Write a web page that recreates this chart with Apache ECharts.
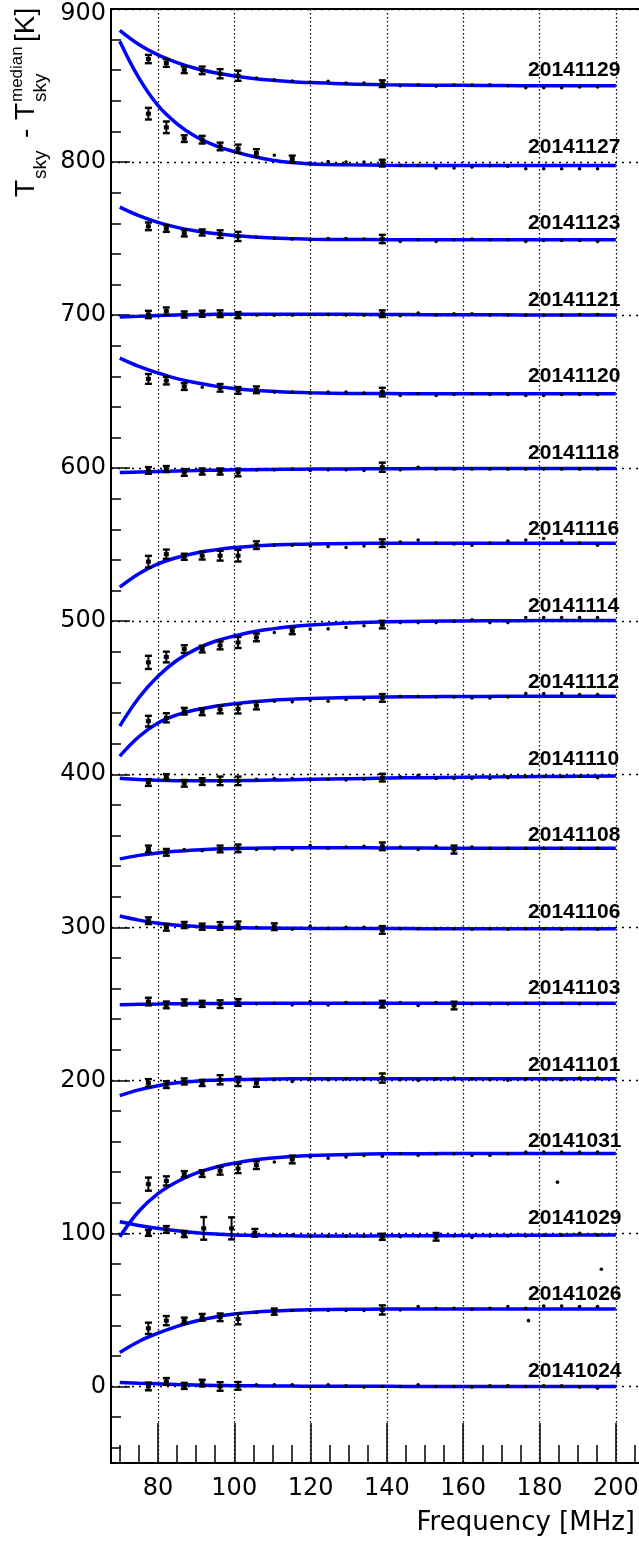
<!DOCTYPE html>
<html><head><meta charset="utf-8">
<script src="https://cdn.jsdelivr.net/npm/echarts@6/dist/echarts.min.js"></script>
<style>html,body{margin:0;padding:0;background:#fff;} #c{width:639px;height:1542px;}</style>
</head><body><div id="c"></div>
<script>
// ---------- data ----------
const names = ['20141129','20141127','20141123','20141121','20141120','20141118','20141116','20141114','20141112','20141110','20141108','20141106','20141103','20141101','20141031','20141029','20141026','20141024'];
const labelF = 177;
const labelT = [860,810,760,710,660,610,560,510,460,410,360,310,260,210,160,110,60,10];

const freqs = [77.5,82.2,86.9,91.6,96.3,101.0,105.8,110.5,115.2,119.9,124.6,129.3,134.0,138.8,143.5,148.2,152.9,157.6,162.3,167.0,171.7,176.4,181.1,185.8,190.5,195.2];
const freqs1029 = [77.5,82.2,86.9,92.0,99.3,105.4,110.5,115.2,119.9,124.6,129.3,134.0,138.8,143.5,148.2,152.9,157.6,162.3,167.0,171.7,176.4,181.1,185.8,190.5,195.2];
const fitFreqs = [70,75,80,85,90,95,100,105,110,115,120,130,140,150,160,170,180,190,200];

const t1129 = [867.3,864.7,860.3,859.9,857.7,856.4,854.9,853.8,852.9,852.1,852.7,851.6,851.6,851.2,849.9,850.5,849.5,850.3,850.3,850.5,849.9,848.6,848.6,848.6,849.0,849.0];
const e1129 = [2.7,2.5,2.2,2.5,3.0,3.3,0,0,0,0,0,0,0,2.2,0,0,0,0,0,0,0,0,0,0,0,0];
const t1127 = [831.6,822.7,815.3,814.6,810.2,808.7,805.9,804.4,802.0,799.3,800.4,800.0,800.0,799.3,797.8,797.8,796.1,796.1,796.7,797.6,797.2,795.6,795.6,795.6,795.6,795.6];
const e1127 = [3.8,3.8,2.2,2.5,2.5,2.7,2.5,0,2.2,0,0,0,0,2.2,0,0,0,0,0,0,0,0,0,0,0,0];
const t1123 = [758.0,756.6,753.6,754.0,752.9,751.4,751.0,750.3,749.7,749.2,750.1,750.1,749.7,749.7,748.1,749.2,748.1,749.2,749.7,749.2,749.2,748.1,748.8,748.8,748.8,748.1];
const e1123 = [2.5,2.2,2.2,2.0,2.5,3.0,0,0,0,0,0,0,0,2.7,0,0,0,0,0,0,0,0,0,0,0,0];
const t1121 = [700.4,702.6,700.4,700.9,700.9,700.0,700.0,700.0,700.0,700.4,700.4,700.0,700.0,700.9,699.6,701.3,700.0,700.9,700.9,700.0,700.0,700.0,700.0,700.0,700.4,700.4];
const e1121 = [2.4,2.4,2.0,2.0,2.2,2.0,0,0,0,0,0,0,0,2.2,0,0,0,0,0,0,0,0,0,0,0,0];
const t1120 = [658.3,657.2,653.3,652.9,652.5,650.8,651.2,649.7,649.7,649.0,649.7,649.7,649.0,649.7,647.5,648.6,647.5,648.2,648.6,648.2,648.2,647.5,647.5,648.2,648.2,648.2];
const e1120 = [3.2,2.5,2.2,0,2.5,2.2,2.2,0,0,0,0,0,0,2.8,0,0,0,0,0,0,0,0,0,0,0,0];
const t1118 = [598.5,599.4,597.2,597.8,597.8,597.2,598.9,598.9,599.4,598.5,598.9,598.9,598.5,600.6,598.9,600.6,599.4,599.4,599.4,599.4,599.4,599.4,599.4,599.4,599.4,599.4];
const e1118 = [2.2,2.0,2.2,2.0,2.0,2.5,0,0,0,0,0,0,0,3.0,0,0,0,0,0,0,0,0,0,0,0,0];
const t1116 = [538.9,543.8,542.1,542.8,542.8,542.8,549.7,549.7,549.7,549.2,548.8,548.2,549.2,551.0,551.8,553.1,551.0,550.4,549.7,551.0,552.4,553.1,554.0,552.4,551.0,549.7];
const e1116 = [3.8,3.0,2.0,2.5,3.2,3.8,2.5,0,0,0,0,0,0,2.5,0,0,0,0,0,0,0,0,0,0,0,0];
const t1114 = [473.1,476.6,481.8,481.8,484.2,486.1,489.4,492.6,493.7,494.8,495.0,495.9,497.0,497.8,499.1,499.1,499.1,500.0,500.9,499.1,499.1,502.4,502.4,502.4,502.4,502.4];
const e1114 = [4.3,3.5,2.5,2.2,2.6,3.6,2.5,0,2.2,0,0,0,0,2.5,0,0,0,0,0,0,0,0,0,0,0,0];
const t1112 = [434.7,436.9,441.2,440.8,442.3,442.7,444.9,447.7,447.3,448.4,447.7,448.8,449.2,449.9,451.0,451.0,450.5,450.5,449.9,449.9,450.5,452.7,452.7,452.7,452.1,452.1];
const e1112 = [3.5,3.0,2.2,2.2,2.5,3.0,2.5,0,0,0,0,0,0,2.5,0,0,0,0,0,0,0,0,0,0,0,0];
const t1110 = [394.6,398.3,394.1,395.2,395.7,395.7,396.7,397.2,397.2,396.7,396.7,396.3,396.7,397.8,398.3,399.3,397.2,397.2,397.2,397.2,397.8,398.5,398.5,398.5,398.5,397.8];
const e1110 = [2.2,1.8,2.2,2.2,2.8,2.8,0,0,0,0,0,0,0,2.5,0,0,0,0,0,0,0,0,0,0,0,0];
const t1108 = [351.2,349.0,350.8,350.1,351.2,351.6,350.8,351.2,350.8,353.4,351.6,352.5,352.9,352.9,352.5,350.8,352.9,350.8,352.5,351.6,351.6,351.6,351.6,351.6,351.6,351.6];
const e1108 = [2.2,2.2,0,0,2.2,2.5,0,0,0,0,0,0,0,2.5,0,0,0,2.6,0,0,0,0,0,0,0,0];
const t1106 = [304.3,300.0,301.5,300.4,300.9,301.3,300.0,300.4,298.7,300.9,299.3,300.0,300.0,298.3,299.1,299.1,299.1,299.1,298.7,299.1,298.7,299.1,299.1,298.7,299.1,298.7];
const e1106 = [2.2,2.2,2.0,2.0,2.5,2.5,0,2.2,0,0,0,0,0,2.5,0,0,0,0,0,0,0,0,0,0,0,0];
const t1103 = [251.5,249.3,250.9,250.0,249.8,250.9,250.0,250.4,249.3,251.5,249.3,250.9,250.4,249.8,250.9,248.9,250.9,248.9,250.0,250.0,250.0,250.4,250.4,250.4,250.0,250.0];
const e1103 = [2.5,2.2,2.0,2.0,2.5,2.2,0,0,0,0,0,0,0,2.2,0,0,0,2.5,0,0,0,0,0,0,0,0];
const t1101 = [198.3,197.2,199.3,198.3,200.4,199.3,198.3,200.4,199.3,200.9,200.4,200.9,200.9,201.5,200.4,200.0,200.9,201.5,200.9,200.4,200.0,200.9,200.9,200.4,201.5,201.5];
const e1101 = [2.5,2.2,2.0,2.0,3.0,3.0,2.5,0,0,0,0,0,0,3.0,0,0,0,0,0,0,0,0,0,0,0,0];
const t1031 = [132.2,134.3,138.7,139.1,140.9,142.4,144.6,146.7,148.3,150.0,149.1,150.0,150.9,150.4,152.2,151.0,152.0,152.0,151.0,151.0,152.0,153.1,153.1,153.1,153.1,153.1];
const e1031 = [4.3,3.0,2.0,2.2,2.5,3.0,2.5,0,2.5,0,0,0,0,0,0,0,0,0,0,0,0,0,0,0,0,0];
const t1029 = [100.4,102.6,99.6,103.3,103.3,100.4,98.9,98.9,98.3,98.3,98.3,98.3,97.8,97.8,98.3,97.8,98.3,97.4,98.3,98.3,98.3,98.9,98.9,100.0,98.9];
const e1029 = [2.0,2.2,2.0,7.4,7.2,2.5,0,0,0,0,0,0,2.0,0,0,2.5,0,0,0,0,0,0,0,0,0];
const t1026 = [38.0,43.0,43.0,45.2,45.2,44.1,48.3,48.9,49.6,49.6,49.6,49.6,49.6,50.0,50.0,52.2,51.1,51.1,50.4,51.1,52.2,51.1,52.6,52.6,52.2,52.2];
const e1026 = [3.7,3.0,2.0,2.2,2.5,3.5,0,2.0,0,0,0,0,0,3.0,0,0,0,0,0,0,0,0,0,0,0,0];
const t1024 = [0.0,3.3,0.4,2.2,0.0,0.4,1.1,1.1,1.1,-0.4,1.1,0.4,-0.4,0.0,0.0,1.1,0.0,0.0,-0.4,0.4,0.4,0.0,0.4,0.4,-0.4,-1.1];
const e1024 = [2.5,2.2,2.0,2.2,2.8,2.5,0,0,0,0,0,0,0,0,0,0,0,0,0,0,0,0,0,0,0,0];

const extraF = [184.7,196.2,177.1];
const extraT = [133.5,76.6,43.0];

// fitted curves, read at fitFreqs
const f1129 = [886,876.8,870,865,861.1,858.3,856.2,854.6,853.4,852.5,851.9,851.0,850.5,850.2,850.1,850.0,849.9,849.9,849.8];
const f1127 = [879,855,837,825,816.5,810.8,806.8,803.6,801.2,799.7,798.8,798.2,797.9,797.8,797.8,797.8,797.8,797.8,797.8];
const f1123 = [770.6,765,760.6,757.3,755,753.3,752,751,750.3,749.9,749.6,749.4,749.3,749.2,749.2,749.2,749.2,749.2,749.2];
const f1121 = [698.7,699.2,699.7,700.1,700.4,700.5,700.6,700.6,700.6,700.6,700.5,700.5,700.4,700.3,700.3,700.2,700.1,700.1,700.0];
const f1120 = [671.9,666.5,662.2,658.5,655.8,653.6,652.0,650.9,650.2,649.6,649.2,648.8,648.7,648.6,648.6,648.6,648.6,648.6,648.6];
const f1118 = [597.2,597.5,597.8,598.1,598.4,598.7,598.9,599.0,599.2,599.3,599.4,599.5,599.6,599.7,599.7,599.8,599.8,599.8,599.8];
const f1116 = [522.2,531,537.4,541.6,544.6,546.6,548.1,549.1,549.8,550.2,550.5,550.8,550.9,551,551,551,551,551,551];
const f1114 = [431.5,450,464,474.5,481.8,486.9,490.3,493.1,495,496.5,497.5,498.9,499.6,500,500.2,500.3,500.4,500.4,500.4];
const f1112 = [411.9,424.5,433.5,438.8,442.2,444.4,446.1,447.4,448.4,449,449.5,450.1,450.5,450.7,450.8,450.9,451,451,451];
const f1110 = [397.4,396.6,396.1,395.8,395.7,395.7,395.8,396.0,396.2,396.4,396.7,397.1,397.5,397.8,398.1,398.3,398.5,398.7,398.9];
const f1108 = [344.7,347,348.6,349.7,350.5,351.1,351.5,351.7,351.9,352,352,352,351.9,351.8,351.7,351.7,351.6,351.6,351.6];
const f1106 = [307.4,304.7,302.7,301.4,300.6,300.1,299.8,299.6,299.5,299.4,299.3,299.2,299.2,299.1,299.1,299.1,299.1,299.1,299.1];
const f1103 = [249.4,249.7,249.9,250.1,250.2,250.3,250.4,250.4,250.4,250.4,250.4,250.4,250.4,250.4,250.4,250.4,250.4,250.4,250.4];
const f1101 = [190,193.8,196.5,198.4,199.5,200.1,200.5,200.7,200.9,201,201,201,201,201,201,201,201,201,201];
const f1031 = [97.8,114.5,126,133.8,139.4,143.2,145.9,147.9,149.3,150.3,150.9,151.6,152,152.1,152.2,152.2,152.2,152.2,152.2];
const f1029 = [107.6,105.2,103.3,101.7,100.5,99.6,99.0,98.7,98.5,98.4,98.3,98.3,98.4,98.5,98.6,98.7,98.8,98.9,98.9];
const f1026 = [22.2,29.4,34.8,39.3,42.8,45.4,47.3,48.5,49.3,49.8,50.1,50.4,50.6,50.7,50.7,50.7,50.7,50.7,50.7];
const f1024 = [2.6,2.1,1.7,1.3,1.0,0.7,0.5,0.4,0.3,0.25,0.2,0.1,0.1,0,0,0,0,0,0];

const xMajor = [80,100,120,140,160,180,200];
const xMinor = [70,75,85,90,95,105,110,115,125,130,135,145,150,155,165,170,175,185,190,195,205];
const yMajor = [0,100,200,300,400,500,600,700,800,900];
const yMinor = [-40,-20,20,40,60,80,120,140,160,180,220,240,260,280,320,340,360,380,420,440,460,480,520,540,560,580,620,640,660,680,720,740,760,780,820,840,860,880];

// ---------- build ----------
const pointSets = [
  [freqs,t1129,e1129],[freqs,t1127,e1127],[freqs,t1123,e1123],[freqs,t1121,e1121],
  [freqs,t1120,e1120],[freqs,t1118,e1118],[freqs,t1116,e1116],[freqs,t1114,e1114],
  [freqs,t1112,e1112],[freqs,t1110,e1110],[freqs,t1108,e1108],[freqs,t1106,e1106],
  [freqs,t1103,e1103],[freqs,t1101,e1101],[freqs,t1031,e1031],[freqs1029,t1029,e1029],
  [freqs,t1026,e1026],[freqs,t1024,e1024]
];
const fits = [f1129,f1127,f1123,f1121,f1120,f1118,f1116,f1114,f1112,f1110,f1108,f1106,f1103,f1101,f1031,f1029,f1026,f1024];

const pts = [];
pointSets.forEach(function(s){ s[0].forEach(function(f,i){ pts.push([f, s[1][i], s[2][i]]); }); });
extraF.forEach(function(f,i){ pts.push([f, extraT[i], 0]); });

const TICKFONT = 'DejaVu Sans';
const series = [];
fits.forEach(function(fv, k){
  series.push({
    type:'line', name: names[k], xAxisIndex:0, yAxisIndex:0,
    data: fitFreqs.map(function(f,i){ return [f, fv[i]]; }),
    smooth: 0.4, symbol:'none', showSymbol:false,
    lineStyle:{color:'#0000ff', width:3.5}, z:3, silent:true, clip:true
  });
});
series.push({
  type:'custom', name:'points', xAxisIndex:0, yAxisIndex:0, z:5, clip:true, silent:true,
  data: pts, encode:{x:0,y:1},
  renderItem: function(params, api){
    const f = api.value(0), t = api.value(1), e = api.value(2);
    const c = api.coord([f,t]);
    const kids = [];
    if (e > 0) {
      const y1 = api.coord([f, t+e])[1], y2 = api.coord([f, t-e])[1];
      kids.push({type:'line', shape:{x1:c[0], y1:y1, x2:c[0], y2:y2}, style:{stroke:'#000', lineWidth:2}});
      kids.push({type:'rect', shape:{x:c[0]-3.5, y:y1-1.2, width:7, height:2.4}, style:{fill:'#000'}});
      kids.push({type:'rect', shape:{x:c[0]-3.5, y:y2-1.2, width:7, height:2.4}, style:{fill:'#000'}});
      kids.push({type:'rect', shape:{x:c[0]-2.5, y:c[1]-2, width:5, height:4}, style:{fill:'#000'}});
    } else {
      kids.push({type:'circle', shape:{cx:c[0], cy:c[1], r:1.8}, style:{fill:'#000'}});
    }
    return {type:'group', children:kids};
  }
});
series.push({
  type:'custom', name:'labels', xAxisIndex:0, yAxisIndex:0, z:6, silent:true, clip:false,
  data: labelT.map(function(t){ return [labelF, t]; }), encode:{x:0,y:1},
  renderItem: function(params, api){
    const c = api.coord([api.value(0), api.value(1)]);
    return {type:'text', x:c[0], y:c[1], style:{text:names[params.dataIndex], fill:'#000',
      font:'bold 21px "Liberation Sans", Arial, sans-serif', align:'left', verticalAlign:'middle'}};
  }
});

const tfont = '"Liberation Sans", Arial, sans-serif';
const option = {
  animation:false,
  backgroundColor:'#fff',
  grid:{left:111, top:9, width:543, height:1454, show:true, borderColor:'#000', borderWidth:2,
        backgroundColor:'rgba(0,0,0,0)', containLabel:false, outerBoundsMode:'none'},
  xAxis:[
    {type:'value', min:67.7, max:210, position:'bottom',
     axisLine:{show:true, onZero:false, lineStyle:{color:'#000', width:2}},
     axisTick:{show:true, inside:true, length:40, customValues:xMajor, lineStyle:{color:'#000', width:1.5}},
     axisLabel:{show:true, customValues:xMajor, color:'#000', fontFamily:TICKFONT, fontSize:24, margin:14},
     splitLine:{show:true, lineStyle:{color:'#000', width:1.3, type:[1.5,2.5]}}},
    {type:'value', min:67.7, max:210, position:'bottom',
     axisLine:{show:false, onZero:false},
     axisTick:{show:true, inside:true, length:18, customValues:xMinor, lineStyle:{color:'#000', width:1.5}},
     axisLabel:{show:false}, splitLine:{show:false}}
  ],
  yAxis:[
    {type:'value', min:-50, max:900, position:'left',
     axisLine:{show:true, onZero:false, lineStyle:{color:'#000', width:2}},
     axisTick:{show:true, inside:true, length:19, customValues:yMajor, lineStyle:{color:'#000', width:1.5}},
     axisLabel:{show:true, customValues:yMajor, color:'#000', fontFamily:TICKFONT, fontSize:24, margin:5,
       formatter:function(v){ return v === 900 ? '{t|900}' : String(v); },
       rich:{t:{fontFamily:TICKFONT, fontSize:24, color:'#000', padding:[9,0,0,0]}}},
     splitLine:{show:true, lineStyle:{color:'#000', width:1.3, type:[2,5]}}},
    {type:'value', min:-50, max:900, position:'left',
     axisLine:{show:false, onZero:false},
     axisTick:{show:true, inside:true, length:10, customValues:yMinor, lineStyle:{color:'#000', width:1.5}},
     axisLabel:{show:false}, splitLine:{show:false}}
  ],
  graphic:[
    {type:'group', x:0, y:200, rotation:Math.PI/2, silent:true, children:[
      {type:'text', x:3, y:26, style:{text:'T', font:'28px '+tfont, fill:'#000', align:'left', verticalAlign:'middle'}},
      {type:'text', x:21, y:41, style:{text:'sky', font:'19px '+tfont, fill:'#000', align:'left', verticalAlign:'middle'}},
      {type:'text', x:62, y:26, style:{text:'-', font:'28px '+tfont, fill:'#000', align:'left', verticalAlign:'middle'}},
      {type:'text', x:80, y:26, style:{text:'T', font:'28px '+tfont, fill:'#000', align:'left', verticalAlign:'middle'}},
      {type:'text', x:98, y:41, style:{text:'sky', font:'19px '+tfont, fill:'#000', align:'left', verticalAlign:'middle'}},
      {type:'text', x:98, y:17, style:{text:'median', font:'17px '+tfont, fill:'#000', align:'left', verticalAlign:'middle'}},
      {type:'text', x:158, y:26, style:{text:'[K]', font:'28px '+tfont, fill:'#000', align:'left', verticalAlign:'middle'}}
    ]},
    {type:'text', x:635, y:1523, silent:true, style:{text:'Frequency [MHz]', font:'26px "DejaVu Sans"', fill:'#000', align:'right', verticalAlign:'middle'}}
  ],
  series: series
};
const chart = echarts.init(document.getElementById('c'), null, {renderer:'canvas'});
chart.setOption(option);
</script>
</body></html>
